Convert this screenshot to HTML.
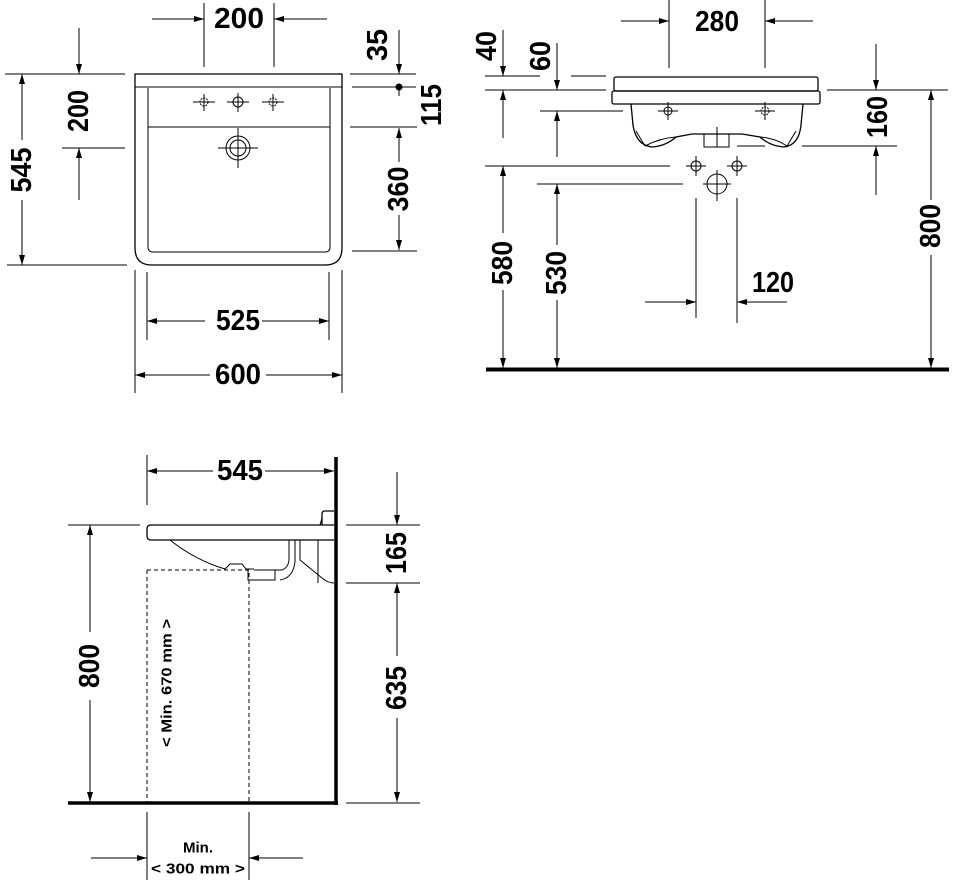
<!DOCTYPE html>
<html><head><meta charset="utf-8"><style>html,body{margin:0;padding:0;background:#fff}svg{display:block}</style></head>
<body>
<svg width="960" height="885" viewBox="0 0 960 885" xmlns="http://www.w3.org/2000/svg">
<defs>
<marker id="a" viewBox="0 0 10 6" refX="10" refY="3" markerWidth="10" markerHeight="6" markerUnits="userSpaceOnUse" orient="auto"><path d="M0,0L10,3L0,6z" fill="#000"/></marker>
</defs>
<style>
.l{stroke:#000;stroke-width:1;fill:none}
.m{stroke:#000;stroke-width:1.3;fill:none}
.d{stroke:#000;stroke-width:1;fill:none;marker-end:url(#a)}
.t{font-family:"Liberation Sans Narrow","Liberation Sans",sans-serif;font-weight:bold;font-size:29px;fill:#000;text-anchor:middle;dominant-baseline:central}
.s{font-family:"Liberation Sans Narrow","Liberation Sans",sans-serif;font-weight:bold;font-size:15px;fill:#000;text-anchor:middle;dominant-baseline:central}
</style>

<!-- ============ TOP LEFT VIEW ============ -->
<path class="m" d="M135,74H342V248Q342,265 325,265H152Q135,265 135,248Z"/>
<line class="l" x1="135" y1="87" x2="342" y2="87"/>
<path class="l" d="M148,88V247Q148,252 153,252H325Q330,252 330,247V88"/>
<line class="l" x1="148" y1="127" x2="330" y2="127"/>
<g class="l">
<circle cx="204" cy="102" r="4" stroke-dasharray="2,1"/><line x1="193" y1="102" x2="215" y2="102"/><line x1="204" y1="94" x2="204" y2="111"/>
<circle cx="238" cy="102" r="5"/><line x1="227" y1="102" x2="249" y2="102"/><line x1="238" y1="93" x2="238" y2="112"/>
<circle cx="273" cy="102" r="4" stroke-dasharray="2,1"/><line x1="262" y1="102" x2="284" y2="102"/><line x1="273" y1="94" x2="273" y2="111"/>
<circle cx="238" cy="148" r="12"/><circle cx="238" cy="148" r="8"/><line x1="218" y1="148" x2="258" y2="148"/><line x1="238" y1="128" x2="238" y2="168"/>
</g>
<line class="l" x1="204" y1="3" x2="204" y2="67"/><line class="l" x1="274" y1="3" x2="274" y2="67"/>
<line class="d" x1="152" y1="19" x2="204" y2="19"/><line class="d" x1="327" y1="19" x2="274" y2="19"/>
<text class="t" x="239" y="19" textLength="50" lengthAdjust="spacingAndGlyphs">200</text>
<line class="l" x1="350" y1="74" x2="416" y2="74"/><line class="l" x1="352" y1="87" x2="416" y2="87"/>
<line class="d" x1="399" y1="30" x2="399" y2="74"/><circle cx="399" cy="87" r="3.5" fill="#000"/>
<line class="l" x1="399" y1="87" x2="399" y2="96"/>
<text class="t" transform="translate(378,45) rotate(-90)" textLength="32" lengthAdjust="spacingAndGlyphs">35</text>
<text class="t" transform="translate(432,105) rotate(-90)" textLength="42" lengthAdjust="spacingAndGlyphs">115</text>
<line class="l" x1="5" y1="74" x2="125" y2="74"/><line class="l" x1="62" y1="148" x2="125" y2="148"/>
<line class="d" x1="79" y1="28" x2="79" y2="74"/><line class="d" x1="79" y1="200" x2="79" y2="148"/>
<text class="t" transform="translate(79,111) rotate(-90)" textLength="42" lengthAdjust="spacingAndGlyphs">200</text>
<line class="l" x1="7" y1="265" x2="127" y2="265"/>
<line class="d" x1="22" y1="140" x2="22" y2="74"/><line class="d" x1="22" y1="200" x2="22" y2="265"/>
<text class="t" transform="translate(22,170) rotate(-90)" textLength="45" lengthAdjust="spacingAndGlyphs">545</text>
<line class="l" x1="350" y1="127" x2="417" y2="127"/><line class="l" x1="352" y1="251" x2="417" y2="251"/>
<line class="d" x1="399" y1="162" x2="399" y2="128"/><line class="d" x1="399" y1="215" x2="399" y2="250"/>
<text class="t" transform="translate(399,189) rotate(-90)" textLength="45" lengthAdjust="spacingAndGlyphs">360</text>
<line class="l" x1="147" y1="272" x2="147" y2="340"/><line class="l" x1="329" y1="272" x2="329" y2="340"/>
<line class="d" x1="205" y1="321" x2="147" y2="321"/><line class="d" x1="262" y1="321" x2="329" y2="321"/>
<text class="t" x="238" y="321" textLength="44" lengthAdjust="spacingAndGlyphs">525</text>
<line class="l" x1="135" y1="270" x2="135" y2="393"/><line class="l" x1="342" y1="270" x2="342" y2="393"/>
<line class="d" x1="210" y1="375" x2="135" y2="375"/><line class="d" x1="266" y1="375" x2="342" y2="375"/>
<text class="t" x="238" y="375" textLength="46" lengthAdjust="spacingAndGlyphs">600</text>

<!-- ============ TOP RIGHT VIEW ============ -->
<rect class="m" x="614" y="77" width="204" height="14" rx="2"/>
<rect class="m" x="612" y="91" width="208" height="13" rx="2"/>
<path class="m" d="M631,104L633,125Q636,145 652,147Q666,146 676,137L692,134L742,134L760,137Q770,146 784,147Q799,145 801,125L803,104"/>
<path class="l" d="M636,131L645,146M796,131L787,146M676,137Q660,138 645,146M760,137Q775,138 787,146"/>
<rect class="l" x="704" y="134" width="25" height="13"/>
<line class="l" x1="717" y1="127" x2="717" y2="147"/>
<g class="l">
<circle cx="668" cy="111" r="4"/><line x1="658" y1="111" x2="678" y2="111"/><line x1="668" y1="102" x2="668" y2="120"/>
<circle cx="765" cy="111" r="4" stroke-dasharray="2,1"/><line x1="755" y1="111" x2="775" y2="111"/><line x1="765" y1="102" x2="765" y2="120"/>
<circle cx="696" cy="166" r="5"/><line x1="686" y1="166" x2="706" y2="166"/><line x1="696" y1="156" x2="696" y2="176"/>
<circle cx="737" cy="166" r="5"/><line x1="727" y1="166" x2="747" y2="166"/><line x1="737" y1="156" x2="737" y2="176"/>
<circle cx="717" cy="184" r="10"/><line x1="703" y1="184" x2="731" y2="184"/><line x1="717" y1="170" x2="717" y2="201"/>
</g>
<line class="l" x1="669" y1="0" x2="669" y2="68"/><line class="l" x1="765" y1="0" x2="765" y2="68"/>
<line class="d" x1="621" y1="21" x2="669" y2="21"/><line class="d" x1="813" y1="21" x2="765" y2="21"/>
<text class="t" x="717" y="22" textLength="44" lengthAdjust="spacingAndGlyphs">280</text>
<line class="l" x1="485" y1="76" x2="540" y2="76"/><line class="l" x1="571" y1="76" x2="606" y2="76"/>
<line class="l" x1="485" y1="90" x2="606" y2="90"/><line class="l" x1="827" y1="90" x2="948" y2="90"/>
<line class="l" x1="540" y1="111" x2="623" y2="111"/>
<line class="l" x1="737" y1="146" x2="765" y2="146"/><line class="l" x1="802" y1="146" x2="897" y2="146"/>
<line class="l" x1="485" y1="166" x2="670" y2="166"/>
<line class="l" x1="537" y1="184" x2="683" y2="184"/>
<line class="d" x1="503" y1="30" x2="503" y2="76"/><line class="d" x1="503" y1="138" x2="503" y2="90"/>
<text class="t" transform="translate(487,46) rotate(-90)" textLength="30" lengthAdjust="spacingAndGlyphs">40</text>
<line class="d" x1="557" y1="43" x2="557" y2="90"/><line class="d" x1="557" y1="157" x2="557" y2="111"/>
<text class="t" transform="translate(541,56) rotate(-90)" textLength="30" lengthAdjust="spacingAndGlyphs">60</text>
<line class="d" x1="876" y1="44" x2="876" y2="90"/><line class="d" x1="876" y1="195" x2="876" y2="146"/>
<text class="t" transform="translate(878,117) rotate(-90)" textLength="42" lengthAdjust="spacingAndGlyphs">160</text>
<line class="d" x1="931" y1="200" x2="931" y2="90"/><line class="d" x1="931" y1="255" x2="931" y2="368"/>
<text class="t" transform="translate(931,226) rotate(-90)" textLength="44" lengthAdjust="spacingAndGlyphs">800</text>
<line class="d" x1="503" y1="233" x2="503" y2="166"/><line class="d" x1="503" y1="290" x2="503" y2="368"/>
<text class="t" transform="translate(503,263) rotate(-90)" textLength="44" lengthAdjust="spacingAndGlyphs">580</text>
<line class="d" x1="557" y1="245" x2="557" y2="184"/><line class="d" x1="557" y1="300" x2="557" y2="368"/>
<text class="t" transform="translate(557,273) rotate(-90)" textLength="44" lengthAdjust="spacingAndGlyphs">530</text>
<line class="l" x1="696" y1="198" x2="696" y2="318"/><line class="l" x1="737" y1="198" x2="737" y2="323"/>
<line class="d" x1="645" y1="302" x2="696" y2="302"/><line class="d" x1="787" y1="302" x2="737" y2="302"/>
<text class="t" x="773" y="283" textLength="42" lengthAdjust="spacingAndGlyphs">120</text>
<line x1="486" y1="369.5" x2="949" y2="369.5" stroke="#000" stroke-width="4"/>

<!-- ============ BOTTOM VIEW ============ -->
<line x1="336" y1="457" x2="336" y2="805" stroke="#000" stroke-width="3.5"/>
<line x1="68" y1="803" x2="338" y2="803" stroke="#000" stroke-width="3.5"/>
<path class="m" d="M334,525H151Q147,525 147,529V536Q147,540 151,540H334"/>
<path class="m" d="M322,525V514Q322,511 325,511H334"/>
<path class="l" d="M320,525L322,518M170,540Q195,560 225,569L230,564H242L246,569H254"/>
<path class="l" d="M248,570V580H275V570M254,570H282Q288,568 289,560V540M295,540V562Q293,578 280,580"/>
<path class="l" d="M300,540V560L322,578Q328,583 334,583M318,540V583"/>
<path class="l" d="M147,570H249V803M147,570V803" stroke-dasharray="4,3"/>
<line class="l" x1="147" y1="455" x2="147" y2="505"/>
<line class="d" x1="213" y1="471" x2="147" y2="471"/><line class="d" x1="265" y1="471" x2="334" y2="471"/>
<text class="t" x="240" y="471" textLength="46" lengthAdjust="spacingAndGlyphs">545</text>
<line class="l" x1="68" y1="525" x2="140" y2="525"/>
<line class="d" x1="90" y1="632" x2="90" y2="525"/><line class="d" x1="90" y1="700" x2="90" y2="802"/>
<text class="t" transform="translate(90,666) rotate(-90)" textLength="44" lengthAdjust="spacingAndGlyphs">800</text>
<line class="l" x1="346" y1="525" x2="420" y2="525"/><line class="l" x1="346" y1="583" x2="420" y2="583"/><line class="l" x1="346" y1="803" x2="420" y2="803"/>
<line class="d" x1="397" y1="472" x2="397" y2="525"/>
<line class="d" x1="397" y1="656" x2="397" y2="583"/><line class="d" x1="397" y1="718" x2="397" y2="802"/>
<text class="t" transform="translate(397,553) rotate(-90)" textLength="42" lengthAdjust="spacingAndGlyphs">165</text>
<text class="t" transform="translate(397,688) rotate(-90)" textLength="44" lengthAdjust="spacingAndGlyphs">635</text>
<text class="s" transform="translate(167,683) rotate(-90)" textLength="128" lengthAdjust="spacingAndGlyphs">&lt; Min. 670 mm &gt;</text>
<line class="l" x1="147" y1="812" x2="147" y2="880"/><line class="l" x1="249" y1="812" x2="249" y2="880"/>
<line class="d" x1="91" y1="858" x2="147" y2="858"/><line class="d" x1="303" y1="858" x2="249" y2="858"/>
<text class="s" x="198" y="848">Min.</text>
<text class="s" x="198" y="869" textLength="94" lengthAdjust="spacingAndGlyphs">&lt; 300 mm &gt;</text>
</svg>
</body></html>
